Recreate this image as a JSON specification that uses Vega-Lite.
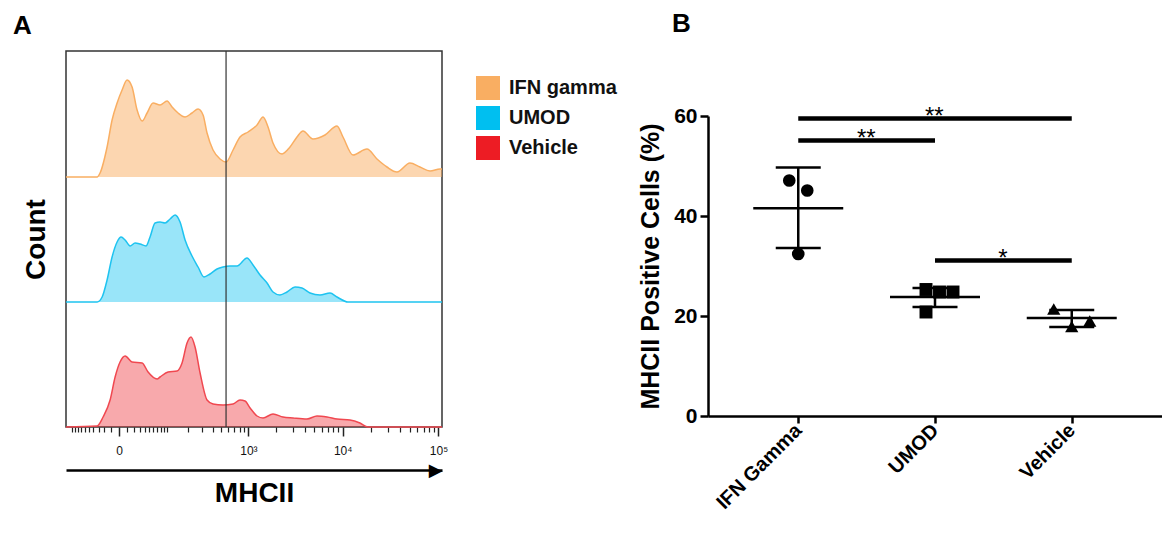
{
  "$schema": "https://vega.github.io/schema/vega-lite/v6.json",
  "padding": {"left": 12, "top": 11, "right": 0, "bottom": 0},
  "background": "white",
  "config": {
    "font": "Liberation Sans",
    "view": {"stroke": null},
    "axis": {"grid": false, "domainColor": "#222", "tickColor": "#222", "labelColor": "#111", "titleColor": "#000"}
  },
  "datasets": {
    "ifn": [
      {"mhcii": -121, "count": 0, "group": "IFN gamma"}, {"mhcii": -32.6, "count": 0, "group": "IFN gamma"}, {"mhcii": -27.2, "count": 4, "group": "IFN gamma"}, {"mhcii": -15.7, "count": 30, "group": "IFN gamma"}, {"mhcii": -8.6, "count": 57, "group": "IFN gamma"}, {"mhcii": -2.3, "count": 74, "group": "IFN gamma"}, {"mhcii": 3.5, "count": 87, "group": "IFN gamma"}, {"mhcii": 9.9, "count": 97, "group": "IFN gamma"}, {"mhcii": 17.2, "count": 90, "group": "IFN gamma"}, {"mhcii": 25.4, "count": 67, "group": "IFN gamma"}, {"mhcii": 34.7, "count": 56, "group": "IFN gamma"}, {"mhcii": 45, "count": 64, "group": "IFN gamma"}, {"mhcii": 59.2, "count": 74, "group": "IFN gamma"}, {"mhcii": 78.6, "count": 72, "group": "IFN gamma"}, {"mhcii": 101.6, "count": 76, "group": "IFN gamma"}, {"mhcii": 120.6, "count": 70, "group": "IFN gamma"}, {"mhcii": 146.5, "count": 64, "group": "IFN gamma"}, {"mhcii": 181.9, "count": 60, "group": "IFN gamma"}, {"mhcii": 223.4, "count": 64, "group": "IFN gamma"}, {"mhcii": 265.7, "count": 68, "group": "IFN gamma"}, {"mhcii": 305.4, "count": 62, "group": "IFN gamma"}, {"mhcii": 340.9, "count": 44, "group": "IFN gamma"}, {"mhcii": 400.8, "count": 27, "group": "IFN gamma"}, {"mhcii": 482.7, "count": 18, "group": "IFN gamma"}, {"mhcii": 565.5, "count": 15, "group": "IFN gamma"}, {"mhcii": 677, "count": 27, "group": "IFN gamma"}, {"mhcii": 808, "count": 40, "group": "IFN gamma"}, {"mhcii": 991, "count": 45, "group": "IFN gamma"}, {"mhcii": 1240, "count": 52, "group": "IFN gamma"}, {"mhcii": 1439, "count": 60, "group": "IFN gamma"}, {"mhcii": 1629, "count": 50, "group": "IFN gamma"}, {"mhcii": 1841, "count": 34, "group": "IFN gamma"}, {"mhcii": 2298, "count": 23, "group": "IFN gamma"}, {"mhcii": 2792, "count": 30, "group": "IFN gamma"}, {"mhcii": 3310, "count": 40, "group": "IFN gamma"}, {"mhcii": 3830, "count": 46, "group": "IFN gamma"}, {"mhcii": 4884, "count": 38, "group": "IFN gamma"}, {"mhcii": 6528, "count": 42, "group": "IFN gamma"}, {"mhcii": 8724, "count": 51, "group": "IFN gamma"}, {"mhcii": 10077, "count": 40, "group": "IFN gamma"}, {"mhcii": 12822, "count": 22, "group": "IFN gamma"}, {"mhcii": 17945, "count": 28, "group": "IFN gamma"}, {"mhcii": 22842, "count": 18, "group": "IFN gamma"}, {"mhcii": 29046, "count": 10, "group": "IFN gamma"}, {"mhcii": 36942, "count": 5, "group": "IFN gamma"}, {"mhcii": 50431, "count": 14, "group": "IFN gamma"}, {"mhcii": 64108, "count": 10, "group": "IFN gamma"}, {"mhcii": 81639, "count": 6, "group": "IFN gamma"}, {"mhcii": 103729, "count": 8, "group": "IFN gamma"}, {"mhcii": 108850, "count": 8, "group": "IFN gamma"}
    ],
    "umod": [
      {"mhcii": -121, "count": 0}, {"mhcii": -32.6, "count": 0}, {"mhcii": -23.6, "count": 5}, {"mhcii": -15.7, "count": 22}, {"mhcii": -8.6, "count": 45}, {"mhcii": -2.3, "count": 60}, {"mhcii": 2.3, "count": 65}, {"mhcii": 7.3, "count": 62}, {"mhcii": 14.2, "count": 56}, {"mhcii": 22, "count": 59}, {"mhcii": 30.8, "count": 58}, {"mhcii": 42.8, "count": 56}, {"mhcii": 51.8, "count": 65}, {"mhcii": 64.4, "count": 79}, {"mhcii": 78.6, "count": 80}, {"mhcii": 94.7, "count": 79}, {"mhcii": 112.7, "count": 83}, {"mhcii": 133.1, "count": 87}, {"mhcii": 155.9, "count": 80}, {"mhcii": 181.9, "count": 62}, {"mhcii": 223.4, "count": 46}, {"mhcii": 265.7, "count": 35}, {"mhcii": 313.7, "count": 25}, {"mhcii": 369.7, "count": 28}, {"mhcii": 446, "count": 33}, {"mhcii": 522, "count": 35}, {"mhcii": 626, "count": 36}, {"mhcii": 749, "count": 36}, {"mhcii": 965, "count": 44}, {"mhcii": 1122, "count": 37}, {"mhcii": 1336, "count": 27}, {"mhcii": 1590, "count": 19}, {"mhcii": 1841, "count": 10}, {"mhcii": 2186, "count": 7}, {"mhcii": 2595, "count": 10}, {"mhcii": 3154, "count": 15}, {"mhcii": 3737, "count": 14}, {"mhcii": 4545, "count": 9}, {"mhcii": 5785, "count": 7}, {"mhcii": 7366, "count": 9}, {"mhcii": 8724, "count": 5}, {"mhcii": 11360, "count": 0}, {"mhcii": 108850, "count": 0}
    ],
    "veh": [
      {"mhcii": -121, "count": 0}, {"mhcii": -32.6, "count": 1}, {"mhcii": -22, "count": 10}, {"mhcii": -11.3, "count": 27}, {"mhcii": -4.7, "count": 50}, {"mhcii": 1.1, "count": 65}, {"mhcii": 7.3, "count": 71}, {"mhcii": 17.2, "count": 65}, {"mhcii": 34.7, "count": 64}, {"mhcii": 47.2, "count": 55}, {"mhcii": 70, "count": 48}, {"mhcii": 78.6, "count": 50}, {"mhcii": 105.2, "count": 55}, {"mhcii": 141.8, "count": 56}, {"mhcii": 165.9, "count": 64}, {"mhcii": 193, "count": 84}, {"mhcii": 217.3, "count": 90}, {"mhcii": 243.9, "count": 80}, {"mhcii": 281.2, "count": 54}, {"mhcii": 340.9, "count": 27}, {"mhcii": 400.8, "count": 23}, {"mhcii": 522, "count": 22}, {"mhcii": 677, "count": 23}, {"mhcii": 808, "count": 27}, {"mhcii": 918, "count": 26}, {"mhcii": 1042, "count": 19}, {"mhcii": 1240, "count": 11}, {"mhcii": 1439, "count": 9}, {"mhcii": 1841, "count": 13}, {"mhcii": 2354, "count": 10}, {"mhcii": 3004, "count": 9}, {"mhcii": 4220, "count": 8}, {"mhcii": 5380, "count": 11}, {"mhcii": 6852, "count": 10}, {"mhcii": 8724, "count": 8}, {"mhcii": 11924, "count": 7}, {"mhcii": 15162, "count": 4}, {"mhcii": 18405, "count": 0}, {"mhcii": 108850, "count": 0}
    ],
    "gate": [{"mhcii": 565}],
    "pts": [
      {"group": "IFN Gamma", "val": 47.1, "slot": -2}, {"group": "IFN Gamma", "val": 45.1, "slot": 2}, {"group": "IFN Gamma", "val": 32.4, "slot": 0},
      {"group": "UMOD", "val": 25.3, "slot": -2}, {"group": "UMOD", "val": 24.8, "slot": 1}, {"group": "UMOD", "val": 24.8, "slot": 4}, {"group": "UMOD", "val": 20.8, "slot": -2},
      {"group": "Vehicle", "val": 21.4, "slot": -4}, {"group": "Vehicle", "val": 17.9, "slot": 0}, {"group": "Vehicle", "val": 19.0, "slot": 4}
    ],
    "summ": [
      {"group": "IFN Gamma", "mean": 41.56, "lo": 33.6, "hi": 49.7},
      {"group": "UMOD", "mean": 23.8, "lo": 21.8, "hi": 25.6},
      {"group": "Vehicle", "mean": 19.6, "lo": 17.8, "hi": 21.2}
    ],
    "sig": [
      {"from": "IFN Gamma", "to": "Vehicle", "yv": 59.5, "label": "**", "span": 2},
      {"from": "IFN Gamma", "to": "UMOD", "yv": 55.1, "label": "**", "span": 1},
      {"from": "UMOD", "to": "Vehicle", "yv": 31.1, "label": "*", "span": 1}
    ]
  },
  "spacing": -5,
  "resolve": {"scale": {"color": "independent"}, "legend": {"color": "independent"}},
  "hconcat": [
    {
      "title": {"text": "A", "anchor": "start", "frame": "group", "dx": -53, "offset": 11, "fontSize": 26, "fontWeight": "bold", "color": "#000"},
      "width": 376, "height": 376,
      "view": {"stroke": "#333", "strokeWidth": 1.5},
      "layer": [
        {
          "data": {"name": "ifn"},
          "mark": {"type": "area", "interpolate": "monotone", "fillOpacity": 0.5, "line": {"strokeWidth": 1.5}},
          "encoding": {
            "x": {"field": "mhcii", "type": "quantitative", "scale": {"type": "symlog", "constant": 47, "domain": [-121, 108850], "nice": false},
              "axis": {"orient": "bottom", "values": [0, 1000, 10000, 100000], "domain": false, "tickSize": 9, "tickWidth": 1.5, "labelExpr": "datum.value == 0 ? '0' : datum.value == 1000 ? '10³' : datum.value == 10000 ? '10⁴' : '10⁵'", "labelFontSize": 12, "labelPadding": 9, "labelFlush": false, "title": null}},
            "y": {"field": "count", "type": "quantitative", "scale": {"domain": [-250, 126], "nice": false, "zero": false}, "axis": null},
            "color": {"field": "group", "type": "nominal",
              "scale": {"domain": ["IFN gamma", "UMOD", "Vehicle"], "range": ["#F9AE62", "#00BFF0", "#ED1C24"]},
              "legend": {"orient": "right", "offset": 6, "padding": 25, "title": null, "symbolType": "square", "symbolSize": 576, "symbolOpacity": 1, "symbolStrokeWidth": 0, "labelFontSize": 20, "labelFontWeight": "bold", "labelColor": "#111", "rowPadding": 6, "labelOffset": 9}}
          }
        },
        {
          "data": {"name": "umod"},
          "mark": {"type": "area", "interpolate": "monotone", "color": "#00BFF0", "fillOpacity": 0.4, "line": {"color": "#1EC3F0", "strokeWidth": 1.5}},
          "encoding": {
            "x": {"field": "mhcii", "type": "quantitative",
              "axis": {"orient": "bottom", "offset": 43, "values": [108850], "ticks": false, "tickSize": 0, "labelExpr": "'▶'", "labelFont": "DejaVu Sans", "labelFontSize": 18, "labelAlign": "right", "labelBaseline": "middle", "labelPadding": 0, "labelColor": "#000", "labelFlush": false, "labelBound": false, "domainWidth": 2.5, "domainColor": "#000", "title": "MHCII", "titleFontSize": 28, "titleFontWeight": "bold", "titlePadding": 0}},
            "y": {"field": "count", "type": "quantitative", "scale": {"domain": [-125, 251], "nice": false, "zero": false},
              "axis": {"orient": "left", "domain": false, "ticks": false, "labels": false, "title": "Count", "titleFontSize": 28, "titleFontWeight": "bold", "titlePadding": 16}}
          }
        },
        {
          "data": {"name": "veh"},
          "mark": {"type": "area", "interpolate": "monotone", "color": "#ED1C24", "fillOpacity": 0.38, "line": {"color": "#F04850", "strokeWidth": 1.5}},
          "encoding": {
            "x": {"field": "mhcii", "type": "quantitative",
              "axis": {"orient": "bottom", "values": [-100, -90, -80, -70, -60, -50, -40, -30, -20, -10, 10, 20, 30, 40, 50, 60, 70, 80, 90, 100, 200, 300, 400, 500, 600, 700, 800, 900, 2000, 3000, 4000, 5000, 6000, 7000, 8000, 9000, 20000, 30000, 40000, 50000, 60000, 70000, 80000, 90000], "tickSize": 5, "tickWidth": 1.2, "labels": false, "domain": false, "title": null}},
            "y": {"field": "count", "type": "quantitative", "scale": {"domain": [0, 376], "nice": false}, "axis": null}
          }
        },
        {
          "data": {"name": "gate"},
          "mark": {"type": "rule", "color": "#333", "strokeWidth": 1.2},
          "encoding": {"x": {"field": "mhcii", "type": "quantitative", "axis": null}, "y": {"value": 0}, "y2": {"value": "height"}}
        }
      ],
      "resolve": {"scale": {"y": "independent"}, "axis": {"x": "independent", "y": "independent"}}
    },
    {
      "title": {"text": "B", "anchor": "start", "frame": "group", "dx": -36, "offset": 14, "fontSize": 26, "fontWeight": "bold", "color": "#000"},
      "bounds": "flush",
      "spacing": 10,
      "vconcat": [
        {
          "width": 10, "height": 55,
          "data": {"values": [{}]},
          "mark": {"type": "text", "text": ""}
        },
        {
          "width": 454, "height": 300,
          "encoding": {
            "x": {"field": "group", "type": "nominal", "scale": {"type": "point", "domain": ["IFN Gamma", "UMOD", "Vehicle"], "padding": 0.66},
              "axis": {"title": null, "labelAngle": -45, "labelAlign": "right", "labelBaseline": "middle", "labelFontSize": 20, "labelFontWeight": "bold", "labelColor": "#000", "labelPadding": 4, "tickSize": 7, "tickWidth": 2.5, "domainWidth": 2.5, "domainColor": "#000", "tickColor": "#000"}}
          },
          "layer": [
            {
              "data": {"name": "summ"},
              "mark": {"type": "rule", "color": "#000", "strokeWidth": 2.5},
              "encoding": {
                "y": {"field": "lo", "type": "quantitative", "scale": {"domain": [0, 60], "nice": false},
                  "axis": {"values": [0, 20, 40, 60], "title": "MHCII Positive Cells (%)", "titleFontSize": 25, "titleFontWeight": "bold", "titlePadding": 10, "labelFontSize": 21, "labelFontWeight": "bold", "labelColor": "#000", "labelPadding": 3, "tickSize": 8, "tickWidth": 2.5, "domainWidth": 2.5, "domainColor": "#000", "tickColor": "#000"}},
                "y2": {"field": "hi"}
              }
            },
            {
              "data": {"name": "summ"},
              "mark": {"type": "tick", "color": "#000", "opacity": 1, "size": 90, "thickness": 2.5},
              "encoding": {"y": {"field": "mean", "type": "quantitative"}}
            },
            {
              "data": {"name": "summ"},
              "mark": {"type": "tick", "color": "#000", "opacity": 1, "size": 45, "thickness": 2.5},
              "encoding": {"y": {"field": "lo", "type": "quantitative"}}
            },
            {
              "data": {"name": "summ"},
              "mark": {"type": "tick", "color": "#000", "opacity": 1, "size": 45, "thickness": 2.5},
              "encoding": {"y": {"field": "hi", "type": "quantitative"}}
            },
            {
              "data": {"name": "pts"},
              "mark": {"type": "point", "filled": true, "color": "#000", "opacity": 1},
              "encoding": {
                "xOffset": {"field": "slot", "type": "ordinal", "scale": {"type": "point", "domain": [-4, -3, -2, -1, 0, 1, 2, 3, 4], "range": [-18, 18], "padding": 0}},
                "y": {"field": "val", "type": "quantitative"},
                "shape": {"field": "group", "type": "nominal", "scale": {"domain": ["IFN Gamma", "UMOD", "Vehicle"], "range": ["circle", "square", "triangle-up"]}, "legend": null},
                "size": {"field": "group", "type": "nominal", "scale": {"domain": ["IFN Gamma", "UMOD", "Vehicle"], "range": [160, 175, 165]}, "legend": null}
              }
            },
            {
              "data": {"name": "sig"},
              "mark": {"type": "rule", "color": "#000", "strokeWidth": 4.5},
              "encoding": {
                "x": {"field": "from", "type": "nominal"},
                "x2": {"field": "to"},
                "y": {"field": "yv", "type": "quantitative"}
              }
            },
            {
              "data": {"name": "sig"},
              "transform": [{"filter": "datum.span == 1"}],
              "mark": {"type": "text", "dx": 68, "dy": 5, "baseline": "alphabetic", "fontSize": 24, "color": "#000"},
              "encoding": {
                "x": {"field": "from", "type": "nominal"},
                "y": {"field": "yv", "type": "quantitative"},
                "text": {"field": "label"}
              }
            },
            {
              "data": {"name": "sig"},
              "transform": [{"filter": "datum.span == 2"}],
              "mark": {"type": "text", "dx": 136, "dy": 5, "baseline": "alphabetic", "fontSize": 24, "color": "#000"},
              "encoding": {
                "x": {"field": "from", "type": "nominal"},
                "y": {"field": "yv", "type": "quantitative"},
                "text": {"field": "label"}
              }
            }
          ]
        }
      ]
    }
  ]
}
